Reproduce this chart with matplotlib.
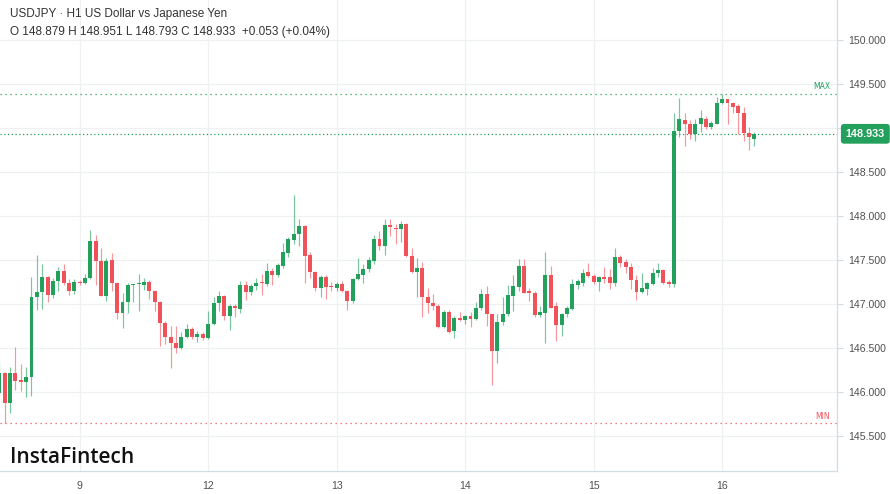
import matplotlib
matplotlib.use("Agg")
import matplotlib.pyplot as plt
import matplotlib.transforms as mtransforms

# hourly USDJPY candles
opens = [145.98, 146.21, 145.875, 146.21, 146.13, 146.107, 146.164, 147.074, 147.138, 147.31,
         147.10, 147.26, 147.373, 147.233, 147.15, 147.25, 147.233, 147.29, 147.71, 147.49,
         147.092, 147.50, 147.24, 146.89, 147.024, 147.214, 147.222, 147.214, 147.25, 147.146,
         147.024, 146.785, 146.619, 146.556, 146.494, 146.626, 146.71, 146.626, 146.657, 146.61,
         146.77, 147.006, 147.089, 146.861, 146.975, 146.94, 147.214, 147.13, 147.20, 147.24,
         147.225, 147.373, 147.328, 147.43, 147.58, 147.725, 147.79, 147.885, 147.55, 147.36,
         147.183, 147.31, 147.20, 147.183, 147.222, 147.146, 147.032, 147.28, 147.33, 147.40,
         147.49, 147.733, 147.66, 147.896, 147.86, 147.847, 147.907, 147.543, 147.358, 147.41,
         147.08, 147.006, 146.98, 146.733, 146.91, 146.69, 146.842, 146.816, 146.86, 146.823,
         146.95, 147.108, 146.88, 146.467, 146.79, 146.887, 147.09, 147.194, 147.43, 147.14,
         147.12, 146.873, 146.90, 147.328, 146.975, 146.76, 146.887, 146.94, 147.214, 147.24,
         147.365, 147.32, 147.25, 147.30, 147.30, 147.233, 147.536, 147.48, 147.415, 147.27,
         147.138, 147.17, 147.22, 147.35, 147.384, 147.25, 147.225, 148.968, 149.09, 149.05,
         148.93, 149.05, 149.10, 149.014, 149.05, 149.287, 149.325, 149.28, 149.25, 149.17,
         148.946, 148.879]
highs = [146.34, 146.22, 146.285, 146.51, 146.315, 146.285, 147.30, 147.555, 147.45, 147.32,
         147.29, 147.42, 147.45, 147.28, 147.28, 147.27, 147.34, 147.84, 147.78, 147.63,
         147.517, 147.574, 147.25, 147.12, 147.233, 147.23, 147.335, 147.297, 147.27, 147.16,
         147.03, 146.80, 146.747, 146.747, 146.683, 146.77, 146.74, 146.69, 146.68, 146.918,
         147.08, 147.14, 147.10, 147.00, 147.00, 147.26, 147.26, 147.23, 147.29, 147.335,
         147.46, 147.404, 147.46, 147.688, 147.763, 148.237, 147.96, 147.90, 147.593, 147.37,
         147.328, 147.33, 147.25, 147.25, 147.26, 147.16, 147.29, 147.524, 147.45, 147.53,
         147.78, 147.83, 147.96, 147.96, 147.907, 147.945, 147.92, 147.63, 147.517, 147.48,
         147.176, 147.108, 147.00, 146.93, 146.93, 146.86, 146.91, 146.87, 146.91, 147.024,
         147.165, 147.20, 146.88, 146.88, 147.08, 147.214, 147.328, 147.506, 147.506, 147.18,
         147.14, 146.975, 147.593, 147.43, 147.02, 146.89, 146.98, 147.278, 147.28, 147.39,
         147.46, 147.34, 147.32, 147.415, 147.39, 147.63, 147.56, 147.51, 147.467, 147.33,
         147.347, 147.25, 147.404, 147.46, 147.39, 147.27, 149.173, 149.337, 149.166, 149.09,
         149.10, 149.204, 149.13, 149.08, 149.348, 149.386, 149.33, 149.30, 149.27, 149.24,
         149.014, 148.951]
lows = [145.93, 145.64, 145.76, 146.02, 146.01, 145.94, 145.95, 146.93, 146.94, 147.02,
        147.06, 147.15, 147.21, 147.10, 147.11, 147.21, 147.225, 147.278, 147.214, 147.09,
        147.03, 147.15, 146.827, 146.72, 146.90, 147.02, 146.918, 147.157, 147.05, 146.92,
        146.52, 146.54, 146.273, 146.444, 146.49, 146.61, 146.596, 146.56, 146.59, 146.60,
        146.76, 146.92, 146.816, 146.70, 146.85, 146.89, 147.04, 147.10, 147.157, 147.10,
        147.20, 147.214, 147.30, 147.41, 147.53, 147.676, 147.66, 147.233, 147.29, 147.15,
        147.074, 147.05, 147.15, 147.15, 147.13, 146.93, 147.006, 147.27, 147.233, 147.36,
        147.45, 147.61, 147.56, 147.77, 147.676, 147.706, 147.536, 147.35, 147.074, 146.853,
        146.89, 146.93, 146.72, 146.72, 146.67, 146.607, 146.80, 146.77, 146.74, 146.81,
        146.93, 146.747, 146.076, 146.33, 146.76, 146.86, 146.92, 147.15, 147.12, 147.035,
        146.846, 146.85, 146.55, 146.95, 146.58, 146.633, 146.85, 146.93, 147.17, 147.20,
        147.30, 147.23, 147.149, 147.24, 147.17, 147.20, 147.42, 147.35, 147.165, 147.043,
        147.12, 147.10, 147.21, 147.31, 147.22, 147.19, 147.195, 148.893, 148.794, 148.87,
        148.855, 148.957, 148.99, 148.99, 149.04, 149.27, 149.05, 149.166, 148.93, 148.855,
        148.75, 148.793]
closes = [146.21, 145.875, 146.21, 146.125, 146.11, 146.164, 147.074, 147.138, 147.31, 147.10,
          147.263, 147.373, 147.233, 147.15, 147.243, 147.233, 147.29, 147.714, 147.49, 147.092,
          147.49, 147.24, 146.90, 147.024, 147.214, 147.23, 147.23, 147.25, 147.146, 147.024,
          146.785, 146.619, 146.55, 146.50, 146.626, 146.71, 146.62, 146.657, 146.61, 146.77,
          147.006, 147.089, 146.861, 146.975, 146.95, 147.214, 147.13, 147.20, 147.24, 147.233,
          147.373, 147.328, 147.438, 147.593, 147.733, 147.794, 147.885, 147.543, 147.36, 147.183,
          147.31, 147.194, 147.187, 147.222, 147.146, 147.032, 147.28, 147.335, 147.40, 147.50,
          147.733, 147.66, 147.896, 147.87, 147.847, 147.907, 147.543, 147.358, 147.41, 147.08,
          147.006, 146.98, 146.74, 146.91, 146.683, 146.842, 146.816, 146.86, 146.823, 146.95,
          147.108, 146.88, 146.467, 146.79, 146.887, 147.10, 147.20, 147.43, 147.126, 147.12,
          146.873, 146.907, 147.328, 146.955, 146.76, 146.887, 146.955, 147.222, 147.263, 147.354,
          147.32, 147.25, 147.30, 147.28, 147.233, 147.536, 147.467, 147.415, 147.27, 147.138,
          147.176, 147.233, 147.354, 147.384, 147.233, 147.225, 148.968, 149.098, 149.045, 148.93,
          149.05, 149.11, 149.014, 149.06, 149.287, 149.325, 149.28, 149.24, 149.173, 148.94,
          148.893, 148.933]

day_pos = [15, 39, 63, 87, 111, 135]
day_labels = ["9", "12", "13", "14", "15", "16"]
price_ticks = [145.5, 146.0, 146.5, 147.0, 147.5, 148.0, 148.5, 149.0, 149.5, 150.0]
last_price = closes[-1]

up_col = "#22a05c"
down_col = "#f0525a"
grid_col = "#eef0f2"
axis_col = "#d3dbe3"

fig = plt.figure(figsize=(8.9, 4.94), dpi=100)
ax = fig.add_axes([0, 23 / 494, 837 / 890, 471 / 494])

idx = list(range(len(closes)))
cols = [up_col if c >= o else down_col for o, c in zip(opens, closes)]

# wicks first, then bodies on top
ax.vlines(idx, lows, highs, colors=cols, linewidth=0.85, alpha=0.6, zorder=2)
heights = []
bottoms = []
for o, c in zip(opens, closes):
    h = abs(c - o)
    if h < 0.012:
        h = 0.012
    heights.append(h)
    bottoms.append(min(o, c))
ax.bar(idx, heights, bottom=bottoms, width=0.74, color=cols, linewidth=0, zorder=3)

ax.set_xlim(0.12, 156.45)
ax.set_ylim(145.098, 150.455)

# 149.000 sits under the last-price box, so its label is left blank
ax.set_yticks(price_ticks)
ax.yaxis.tick_right()
ax.set_yticklabels(["" if abs(p - 149.0) < 1e-9 else "%.3f" % p for p in price_ticks])
ax.tick_params(axis="y", length=4, width=0.8, color=axis_col, labelsize=7.6,
               labelcolor="#505050", pad=4)
ax.set_xticks(day_pos)
ax.set_xticklabels(day_labels)
ax.tick_params(axis="x", length=0, labelsize=7.6, labelcolor="#505050", pad=7)
for lab in ax.get_yticklabels() + ax.get_xticklabels():
    lab.set_fontfamily("Liberation Sans")

ax.grid(True, color=grid_col, linewidth=0.9)
ax.set_axisbelow(True)
for s in ["top", "left"]:
    ax.spines[s].set_visible(False)
for s in ["right", "bottom"]:
    ax.spines[s].set_color(axis_col)
    ax.spines[s].set_linewidth(0.9)

# max / min / last price lines
hi = max(highs)
lo = min(lows)
ax.axhline(hi, color=up_col, linestyle=(0, (1, 3)), linewidth=0.9, zorder=1)
ax.axhline(lo, color=down_col, linestyle=(0, (1, 3)), linewidth=0.9, zorder=1)
ax.axhline(last_price, color=up_col, linestyle=(0, (1, 2)), linewidth=0.9, zorder=1)

trans = mtransforms.blended_transform_factory(ax.transAxes, ax.transData)
ax.text(0.992, hi + 0.03, "MAX", transform=trans, ha="right", va="bottom",
        fontsize=5.5, color=up_col)
ax.text(0.992, lo + 0.03, "MIN", transform=trans, ha="right", va="bottom",
        fontsize=5.5, color=down_col)
ax.text(1.0105, last_price, "%.3f" % last_price, transform=trans, ha="left", va="center",
        fontsize=7.8, color="white", fontweight="bold", family="Liberation Sans",
        clip_on=False, zorder=10,
        bbox=dict(boxstyle="round,pad=0.45,rounding_size=0.3", fc=up_col, ec="none"))

fig.text(10 / 890, 1 - 14 / 494, "USDJPY \u00b7 H1 US Dollar vs Japanese Yen",
         fontsize=8.5, color="#333333", family="Liberation Sans", va="center")
fig.text(10 / 890, 1 - 32 / 494,
         "O 148.879 H 148.951 L 148.793 C 148.933  +0.053 (+0.04%)",
         fontsize=8.5, color="#333333", family="Liberation Sans", va="center")
fig.text(10 / 890, 1 - 457 / 494, "InstaFintech", fontsize=15, color="#111111",
         family="Open Sans", fontweight="semibold", va="center")

fig.savefig("out.png", dpi=100)
